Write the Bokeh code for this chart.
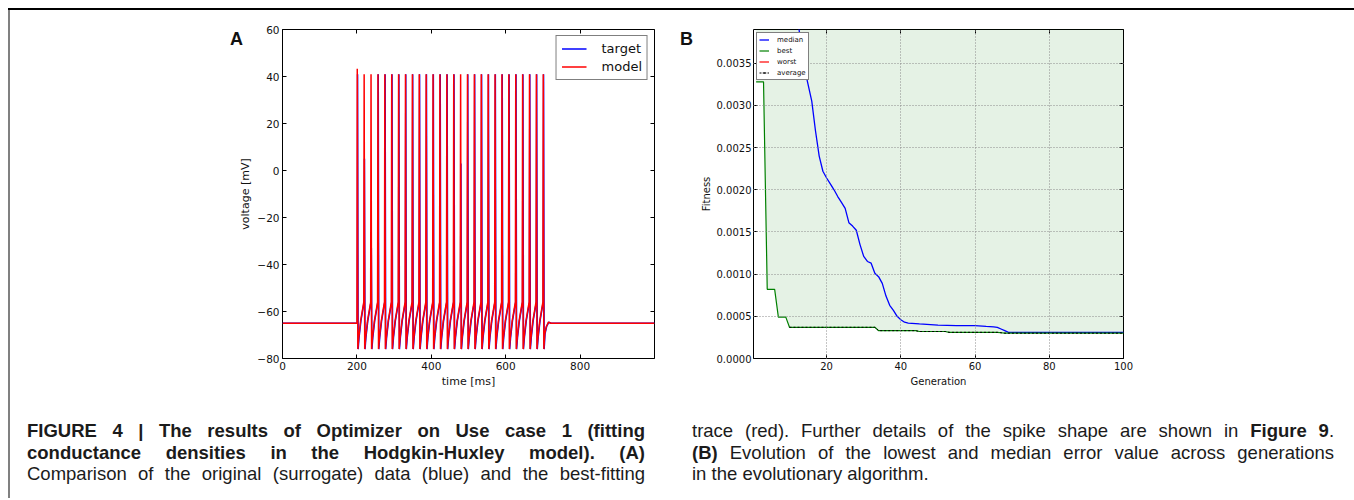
import math
from bokeh.plotting import figure
from bokeh.models import (Range1d, LinearAxis, Legend, LegendItem, Div,
                          FixedTicker, NumeralTickFormatter)
from bokeh.layouts import row, column
from bokeh.embed import file_html
from bokeh.resources import INLINE

# ---------------- Panel A data ----------------
a_xticks = [0, 200, 400, 600, 800]
a_yticks = [-80, -60, -40, -20, 0, 20, 40, 60]
a_ylabels = {-80: "\u221280", -60: "\u221260", -40: "\u221240", -20: "\u221220",
             0: "0", 20: "20", 40: "40", 60: "60"}
rest_mv = -65.0
trough_mv = -76.0
knee_mv = -56.0
ramp_dt_ms = [4.0, 9.0]
ramp_mv = [-71.0, -64.0]

model_spike_ms = [201.0, 219.5, 238.0, 256.6, 275.1, 293.6, 312.1, 330.6, 349.2, 367.7,
                  386.2, 404.7, 423.2, 441.8, 460.3, 478.8, 497.3, 515.8, 534.4, 552.9,
                  571.4, 589.9, 608.4, 627.0, 645.5, 664.0, 682.5, 701.0]
model_peak_mv = [43.3, 41.0, 41.0, 41.0, 41.0, 41.0, 41.0, 41.0, 41.0, 41.0,
                 41.0, 41.0, 41.0, 41.0, 41.0, 41.0, 41.0, 41.0, 41.0, 41.0,
                 41.0, 41.0, 41.0, 41.0, 41.0, 41.0, 41.0, 41.0]
model_recovery_ms = [705.0, 709.0, 715.0, 722.0, 1000.0]
model_recovery_mv = [-69.5, -66.5, -64.5, -65.0, -65.0]

target_spike_ms = [201.8, 220.3, 238.8, 257.4, 275.9, 294.4, 312.9, 331.4, 350.0, 368.5,
                   387.0, 405.5, 424.0, 442.6, 461.1, 479.6, 498.1, 516.6, 535.2, 553.7,
                   572.2, 590.7, 609.2, 627.8, 646.3, 664.8, 683.3, 701.8]
target_peak_mv = [41.0, 5.0, -33.0, 41.0, 41.0, 41.0, 41.0, 41.0, 41.0, 41.0,
                  41.0, 41.0, 41.0, 41.0, 41.0, 3.0, 41.0, 41.0, 41.0, 41.0,
                  41.0, 41.0, 41.0, 41.0, 41.0, 41.0, 41.0, 41.0]
target_recovery_ms = [705.8, 709.8, 715.5, 722.0, 1000.0]
target_recovery_mv = [-69.5, -66.5, -64.6, -65.0, -65.0]

# ---------------- Panel B data ----------------
b_xticks = [20, 40, 60, 80, 100]
b_yticks = [0.0, 0.0005, 0.0010, 0.0015, 0.0020, 0.0025, 0.0030, 0.0035]

median_gen = [1, 5, 10, 12, 13, 14, 15, 16, 17, 18, 19, 20, 21, 22, 23, 24, 25, 26, 27, 28,
              29, 30, 31, 32, 33, 34, 35, 36, 37, 38, 39, 40, 41, 42, 45, 50, 55, 60, 63, 65,
              66, 67, 68, 69, 75, 85, 100]
median_fit = [0.0065, 0.0052, 0.0044, 0.0041, 0.00375, 0.00345, 0.00325, 0.00305, 0.00270, 0.00240,
              0.00222, 0.00214, 0.00207, 0.00200, 0.00192, 0.00185, 0.00178, 0.00161, 0.00157, 0.00152,
              0.00135, 0.00121, 0.00115, 0.00113, 0.00101, 0.00097, 0.00089, 0.00074, 0.00063, 0.00057,
              0.00050, 0.00046, 0.00043, 0.00042, 0.00041, 0.000395, 0.00039, 0.00039, 0.00038, 0.000375,
              0.00037, 0.00035, 0.00033, 0.00031, 0.00031, 0.00031, 0.00031]

best_gen = [1, 2, 3, 4, 5, 6, 7, 8, 9, 10, 33, 34, 44, 45, 52, 53, 66, 67, 68, 100]
best_fit = [0.00328, 0.00328, 0.00328, 0.00082, 0.00082, 0.00082, 0.00049, 0.00049, 0.00049, 0.00037,
            0.00037, 0.00033, 0.00033, 0.00032, 0.00032, 0.00031, 0.00031, 0.000305, 0.00030, 0.00030]
worst_fit = [0.0152, 0.0149, 0.0147, 0.0144, 0.0141, 0.0139, 0.0136, 0.0133, 0.0131, 0.0128,
             0.0105, 0.0104, 0.0098, 0.0097, 0.0093, 0.0092, 0.0088, 0.0087, 0.0087, 0.0079]

avg_gen = [10, 33, 34, 44, 45, 52, 53, 66, 67, 68, 100]
avg_low = [0.00037, 0.00037, 0.00033, 0.00033, 0.00032, 0.00032, 0.00031, 0.00031, 0.000305, 0.00030, 0.00030]

FONT = "DejaVu Sans"


def build_trace(spikes, peaks, rec_t, rec_v):
    t = [0.0, spikes[0] - 0.8]
    v = [rest_mv, rest_mv]
    n = len(spikes)
    for i, (ts, pk) in enumerate(zip(spikes, peaks)):
        if i > 0:
            t.append(ts - 1.0)
            v.append(knee_mv)
        t += [ts, ts + 1.5]
        v += [pk, trough_mv]
        if i < n - 1:
            t += [ts + d for d in ramp_dt_ms]
            v += ramp_mv
    t += rec_t
    v += rec_v
    return t, v


def style(p, xticks, yticks, tick_px, label_px):
    p.outline_line_color = "black"
    p.outline_line_width = 1
    p.outline_line_alpha = 1
    xb = p.xaxis[0]
    yl = p.yaxis[0]
    for ax in (xb, yl):
        ax.axis_line_color = None
        ax.major_tick_in = 4
        ax.major_tick_out = 0
        ax.minor_tick_line_color = None
        ax.major_tick_line_color = "black"
        ax.major_label_text_font = FONT
        ax.major_label_text_font_size = tick_px
        ax.major_label_text_color = "#111111"
        ax.axis_label_text_font = FONT
        ax.axis_label_text_font_size = label_px
        ax.axis_label_text_font_style = "normal"
        ax.axis_label_text_color = "#111111"
        ax.major_label_standoff = 3
    xb.ticker = FixedTicker(ticks=xticks)
    yl.ticker = FixedTicker(ticks=yticks)
    # mirrored tick marks on the top and right (matplotlib classic look), no labels
    top = LinearAxis(ticker=FixedTicker(ticks=xticks), major_label_text_color=None,
                     major_label_text_font_size="8px",
                     axis_line_color=None, major_tick_in=4, major_tick_out=0,
                     minor_tick_line_color=None, major_label_standoff=0)
    right = LinearAxis(ticker=FixedTicker(ticks=yticks), major_label_text_color=None,
                       major_label_text_font_size="8px",
                       axis_line_color=None, major_tick_in=4, major_tick_out=0,
                       minor_tick_line_color=None, major_label_standoff=0)
    p.add_layout(top, "above")
    p.add_layout(right, "right")
    return xb, yl


# ---------------- Panel A ----------------
pa = figure(width=434, height=390, x_range=Range1d(0, 1000), y_range=Range1d(-80, 60),
            output_backend="svg", toolbar_location=None,
            min_border_left=46, min_border_right=16, min_border_top=19, min_border_bottom=41)
pa.border_fill_color = None
ax_xa, ax_ya = style(pa, a_xticks, a_yticks, "10.5px", "11px")
pa.grid.visible = False
ax_ya.major_label_overrides = a_ylabels
ax_xa.axis_label = "time [ms]"
ax_ya.axis_label = "voltage [mV]"
ax_xa.axis_label_standoff = 2
ax_ya.axis_label_standoff = 2

tt, tv = build_trace(target_spike_ms, target_peak_mv, target_recovery_ms, target_recovery_mv)
mt, mv = build_trace(model_spike_ms, model_peak_mv, model_recovery_ms, model_recovery_mv)
r_target = pa.line(tt, tv, line_color="blue", line_width=1.5)
r_model = pa.line(mt, mv, line_color="red", line_width=1.5)

leg_a = Legend(items=[LegendItem(label="target", renderers=[r_target]),
                      LegendItem(label="model", renderers=[r_model])],
               location="top_right", margin=6, padding=5, spacing=3,
               glyph_width=25, glyph_height=15, label_height=15, label_standoff=15,
               label_text_font=FONT, label_text_font_size="13px", label_text_color="#111111",
               border_line_color="black", border_line_width=1.2,
               background_fill_color="white", background_fill_alpha=1)
pa.add_layout(leg_a)

# ---------------- Panel B ----------------
pb = figure(width=657, height=390, x_range=Range1d(0.3, 100), y_range=Range1d(0, 0.0039),
            output_backend="svg", toolbar_location=None,
            min_border_left=54, min_border_right=231, min_border_top=18, min_border_bottom=42)
ax_xb, ax_yb = style(pb, b_xticks, b_yticks, "10px", "10px")
ax_yb.formatter = NumeralTickFormatter(format="0.0000")
ax_xb.axis_label = "Generation"
ax_yb.axis_label = "Fitness"
ax_xb.axis_label_standoff = 3
ax_yb.axis_label_standoff = 2
ax_yb.major_label_standoff = 2
pb.xgrid.ticker = FixedTicker(ticks=b_xticks)
pb.ygrid.ticker = FixedTicker(ticks=b_yticks)
for g in (pb.xgrid[0], pb.ygrid[0]):
    g.grid_line_color = "#8a8a8a"
    g.grid_line_dash = "1 2"
    g.grid_line_width = 1
    g.level = "annotation"

pb.varea(x=best_gen, y1=best_fit, y2=worst_fit, fill_color="green", fill_alpha=0.1)
r_worst = pb.line(best_gen, worst_fit, line_color="red", line_width=1.2)
r_med = pb.line(median_gen, median_fit, line_color="blue", line_width=1.3)
r_best = pb.line(best_gen, best_fit, line_color="green", line_width=1.2)
r_avg = pb.line(avg_gen, avg_low, line_color="black", line_width=1, line_dash="2 2")
r_avg_tick = pb.scatter([-10], [0.002], marker="dash", angle=math.pi / 2, size=6,
                        line_color="black", line_width=1)

leg_b = Legend(items=[LegendItem(label="median", renderers=[r_med]),
                      LegendItem(label="best", renderers=[r_best]),
                      LegendItem(label="worst", renderers=[r_worst]),
                      LegendItem(label="average", renderers=[r_avg, r_avg_tick])],
               location="top_left", margin=3, padding=2, spacing=2,
               glyph_width=10, glyph_height=9, label_height=9, label_standoff=8,
               label_text_font=FONT, label_text_font_size="7px", label_text_color="#111111",
               border_line_color="black", border_line_width=1,
               background_fill_color="white", background_fill_alpha=1)
pb.add_layout(leg_b)

# ---------------- panel letters ----------------
LETTER = ("font-family:'Liberation Sans', Arial, sans-serif;font-weight:bold;"
          "font-size:18px;line-height:18px;color:#111111;padding-top:20px;white-space:nowrap;")
div_a = Div(text=f'<div style="{LETTER}padding-left:220px;">A</div>', width=226, height=390,
            margin=0, styles={"overflow": "visible", "z-index": "5"})
div_b = Div(text=f'<div style="{LETTER}padding-left:10px;">B</div>',
            width=27, height=390, margin=0)

# ---------------- Caption ----------------
CAP_FONT = "'Liberation Sans', Arial, sans-serif"


def cap_block(lines, pad_left, inner_w):
    body = ""
    for html, just in lines:
        al = "justify" if just else "left"
        body += f'<div style="text-align:{al};text-align-last:{al};">{html}</div>'
    return (f'<div style="box-sizing:border-box;padding:20px 0 0 {pad_left}px;'
            f'font-family:{CAP_FONT};font-size:18.5px;line-height:21.5px;color:#1b1b1b;">'
            f'<div style="width:{inner_w}px;">{body}</div></div>')


left_lines = [
    ("<b>FIGURE 4 | The results of Optimizer on Use case 1 (fitting</b>", True),
    ("<b>conductance densities in the Hodgkin-Huxley model). (A)</b>", True),
    ("Comparison of the original (surrogate) data (blue) and the best-fitting", True),
]
right_lines = [
    ("trace (red). Further details of the spike shape are shown in <b>Figure 9</b>.", True),
    ("<b>(B)</b> Evolution of the lowest and median error value across generations", True),
    ("in the evolutionary algorithm.", False),
]

cap_l = Div(text=cap_block(left_lines, 17, 618), width=660, height=98, margin=0)
cap_r = Div(text=cap_block(right_lines, 22, 642), width=684, height=98, margin=0)

top_line = Div(text="", width=1346, height=2, margin=0, styles={"background-color": "black"})
left_bar = Div(text="", width=2, height=488, margin=0, styles={"background-color": "#808080"})

layout = column(top_line,
                row(left_bar,
                    column(row(div_a, pa, div_b, pb, spacing=0),
                           row(cap_l, cap_r, spacing=0), spacing=0),
                    spacing=0),
                spacing=0, margin=(8, 0, 0, 8))

open("out.html", "w").write(file_html(layout, INLINE))
